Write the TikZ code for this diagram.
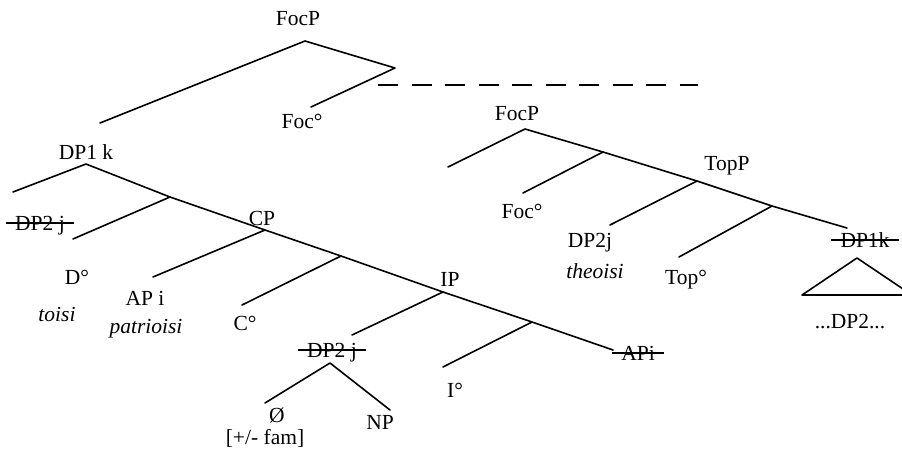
\documentclass[tikz,border=0pt]{standalone}
\usepackage{fontspec}
\setmainfont{Liberation Serif}
\begin{document}
\begin{tikzpicture}[x=1pt,y=-1pt,
  lbl/.style={font=\fontsize{21.5}{25}\selectfont, text height=14pt, text depth=0pt, inner sep=0pt},
  ital/.style={lbl, font=\fontsize{21.5}{25}\selectfont\itshape},
  struck/.style={lbl, inner xsep=9pt},
  branch/.style={line width=1.6pt, line join=round, line cap=round},
  strikeline/.style={line width=1.5pt},
  dashline/.style={line width=1.8pt, dash pattern=on 20pt off 13.5pt}]
\fill[white] (0,0) rectangle (902,450);
\useasboundingbox (0,0) rectangle (902,450);

% ---------- top FocP ----------
\node[lbl] (focA) at (298,18) {FocP};
\node[lbl] (focAh) at (302,121) {Foc°};
\coordinate (tA) at (305,41);
\coordinate (tAl) at (100,123);
\coordinate (tAr) at (395,68);
\coordinate (tAh) at (311,107);
\draw[branch] (tAl) -- (tA) -- (tAr) -- (tAh);
\coordinate (dashS) at (378,85);
\coordinate (dashE) at (698,85);
\draw[dashline] (dashS) -- (dashE);

% ---------- left tree ----------
\node[lbl] (dp1k) at (86,152) {DP1 k};
\node[struck] (dp2jA) at (40,223) {DP2 j};
\node[lbl] (dA) at (77,277) {D°};
\node[ital] (toisi) at (57,314) {toisi};
\node[lbl] (cp) at (262,218) {CP};
\node[lbl] (apiA) at (145,298) {AP i};
\node[ital] (patr) at (146,326) {patrioisi};
\node[lbl] (cA) at (245,323) {C°};
\node[lbl] (ip) at (450,279) {IP};
\node[struck] (dp2jB) at (332,350) {DP2 j};
\node[lbl] (nul) at (277,415) {Ø};
\node[lbl] (fam) at (265,437) {[+/- fam]};
\node[lbl] (np) at (380,422) {NP};
\node[lbl] (iA) at (455,390) {I°};
\node[struck] (apiB) at (638,353) {APi};

\coordinate (L0) at (86,164);
\coordinate (L0l) at (13,192);
\coordinate (L1) at (170,197);
\coordinate (L1l) at (73,239);
\coordinate (L2) at (265,230);
\coordinate (L2l) at (153,277);
\coordinate (L3) at (341,256);
\coordinate (L3l) at (242,305);
\coordinate (L4) at (443,292);
\coordinate (L4l) at (352,335);
\coordinate (L5) at (532,322);
\coordinate (L5l) at (443,367);
\coordinate (L6) at (613,350);
\coordinate (D0) at (330,363);
\coordinate (D0l) at (265,403);
\coordinate (D0r) at (390,410);

\draw[branch] (L0l) -- (L0) -- (L1) -- (L2) -- (L3) -- (L4) -- (L5) -- (L6);
\draw[branch] (L1) -- (L1l);
\draw[branch] (L2) -- (L2l);
\draw[branch] (L3) -- (L3l);
\draw[branch] (L4) -- (L4l);
\draw[branch] (L5) -- (L5l);
\draw[branch] (D0l) -- (D0) -- (D0r);

\draw[strikeline] (dp2jA.west) -- (dp2jA.east);
\draw[strikeline] (dp2jB.west) -- (dp2jB.east);
\draw[strikeline] (apiB.west) -- (apiB.east);

% ---------- right tree ----------
\node[lbl] (focB) at (517,113) {FocP};
\node[lbl] (focBh) at (522,211) {Foc°};
\node[lbl] (topp) at (727,163) {TopP};
\node[lbl] (dp2jC) at (590,240) {DP2j};
\node[ital] (theo) at (595,271) {theoisi};
\node[lbl] (topA) at (686,277) {Top°};
\node[struck] (dp1kB) at (865,240) {DP1k};
\node[lbl] (dots) at (850,321) {...DP2...};

\coordinate (R0) at (525,129);
\coordinate (R0l) at (448,167);
\coordinate (R1) at (603,152);
\coordinate (R1l) at (523,193);
\coordinate (R2) at (697,181);
\coordinate (R2l) at (610,225);
\coordinate (R3) at (772,206);
\coordinate (R3l) at (679,257);
\coordinate (R4) at (847,228);
\draw[branch] (R0l) -- (R0) -- (R1) -- (R2) -- (R3) -- (R4);
\draw[branch] (R1) -- (R1l);
\draw[branch] (R2) -- (R2l);
\draw[branch] (R3) -- (R3l);
\draw[strikeline] (dp1kB.west) -- (dp1kB.east);

\coordinate (T0) at (857,258);
\coordinate (Tl) at (802,295);
\coordinate (Tr) at (912,295);
\begin{scope}
\clip (0,0) rectangle (902,450);
\draw[branch] (Tl) -- (T0) -- (Tr) -- cycle;
\end{scope}
\end{tikzpicture}
\end{document}
